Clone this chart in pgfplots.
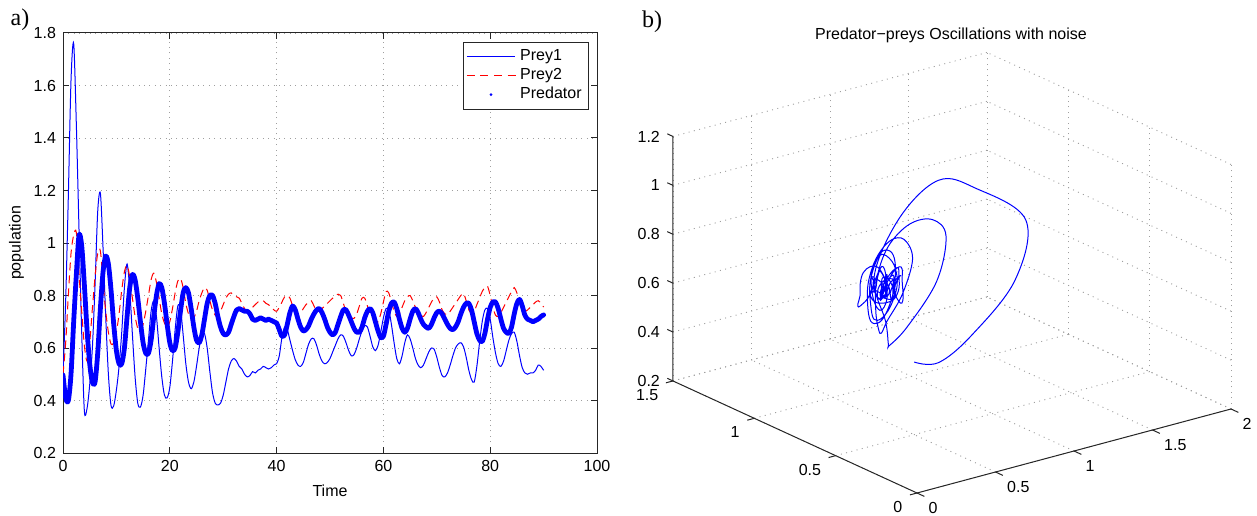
\documentclass[border=0pt]{standalone}
\usepackage{fontspec}
\setmainfont{Liberation Sans}
\newfontfamily\seriffont{Liberation Serif}
\usepackage{pgfplots}
\usepackage{pgfplotstable}
\pgfplotsset{compat=1.18}
\definecolor{mred}{RGB}{255,0,0}
\definecolor{mblue}{RGB}{0,0,255}

\pgfplotstableread{
t p1 p2 pd
0 0.50 0.50 0.497
0.5 0.78 0.62 0.41
1 1.18 0.80 0.40
1.5 1.62 0.96 0.50
2 1.76 1.03 0.70
2.5 1.45 1.04 0.88
3 1.05 0.88 1.03
3.5 0.66 0.74 0.99
4 0.36 0.61 0.84
4.5 0.37 0.55 0.67
5 0.46 0.62 0.54
5.5 0.60 0.75 0.47
6 0.84 0.87 0.47
6.5 1.12 0.96 0.58
7 1.19 0.97 0.75
7.5 0.98 0.85 0.89
8 0.72 0.74 0.95
8.5 0.50 0.66 0.92
9 0.38 0.615 0.82
9.5 0.38 0.62 0.69
10 0.44 0.66 0.59
10.5 0.53 0.73 0.54
11 0.66 0.82 0.54
11.5 0.83 0.89 0.60
12 0.92 0.915 0.72
12.5 0.82 0.87 0.83
13 0.65 0.79 0.88
13.5 0.49 0.72 0.86
14 0.39 0.675 0.79
14.5 0.375 0.665 0.70
15 0.42 0.69 0.62
15.5 0.52 0.74 0.58
16 0.63 0.80 0.58
16.5 0.74 0.86 0.63
17 0.78 0.885 0.72
17.5 0.72 0.85 0.80
18 0.60 0.79 0.845
18.5 0.49 0.73 0.83
19 0.42 0.695 0.77
19.5 0.41 0.68 0.69
20 0.45 0.70 0.62
20.5 0.55 0.75 0.59
21 0.67 0.81 0.60
21.5 0.76 0.855 0.66
22 0.75 0.865 0.74
22.5 0.65 0.83 0.81
23 0.54 0.77 0.83
23.5 0.47 0.73 0.81
24 0.445 0.71 0.75
24.5 0.47 0.715 0.68
25 0.53 0.74 0.63
25.5 0.60 0.78 0.62
26 0.65 0.81 0.65
26.5 0.655 0.83 0.71
27 0.60 0.82 0.77
27.5 0.51 0.78 0.80
28 0.43 0.745 0.80
28.5 0.39 0.725 0.77
29 0.383 0.72 0.72
29.5 0.39 0.74 0.68
30 0.42 0.765 0.655
30.5 0.47 0.79 0.65
31 0.52 0.805 0.66
31.5 0.55 0.81 0.69
32 0.56 0.80 0.72
32.5 0.55 0.795 0.745
33 0.53 0.79 0.75
33.5 0.52 0.77 0.745
34 0.50 0.75 0.74
34.5 0.49 0.74 0.74
35 0.495 0.745 0.73
35.5 0.51 0.755 0.71
36 0.505 0.765 0.705
36.5 0.515 0.775 0.71
37 0.52 0.78 0.715
37.5 0.53 0.78 0.71
38 0.525 0.77 0.705
38.5 0.52 0.765 0.71
39 0.525 0.755 0.705
39.5 0.535 0.745 0.70
40 0.54 0.74 0.695
40.5 0.57 0.755 0.67
41 0.64 0.775 0.645
41.5 0.68 0.795 0.65
42 0.67 0.80 0.69
42.5 0.63 0.79 0.735
43 0.59 0.76 0.76
43.5 0.555 0.735 0.745
44 0.535 0.73 0.71
44.5 0.53 0.735 0.68
45 0.545 0.75 0.665
45.5 0.58 0.765 0.67
46 0.615 0.775 0.685
46.5 0.635 0.78 0.71
47 0.635 0.76 0.73
47.5 0.61 0.74 0.745
48 0.575 0.74 0.75
48.5 0.55 0.75 0.735
49 0.54 0.76 0.71
49.5 0.545 0.77 0.68
50 0.56 0.78 0.66
50.5 0.585 0.79 0.65
51 0.61 0.80 0.66
51.5 0.635 0.805 0.69
52 0.65 0.80 0.72
52.5 0.645 0.77 0.745
53 0.62 0.74 0.745
53.5 0.59 0.72 0.725
54 0.57 0.715 0.70
54.5 0.575 0.713 0.675
55 0.60 0.73 0.66
55.5 0.635 0.76 0.66
56 0.665 0.79 0.68
56.5 0.685 0.79 0.715
57 0.68 0.76 0.74
57.5 0.645 0.73 0.75
58 0.605 0.715 0.735
58.5 0.59 0.705 0.70
59 0.61 0.70 0.665
59.5 0.66 0.73 0.64
60 0.715 0.775 0.645
60.5 0.75 0.815 0.69
61 0.745 0.81 0.74
61.5 0.69 0.775 0.77
62 0.62 0.74 0.775
62.5 0.56 0.72 0.75
63 0.54 0.73 0.71
63.5 0.57 0.755 0.675
64 0.62 0.78 0.66
64.5 0.65 0.795 0.675
65 0.635 0.80 0.71
65.5 0.60 0.78 0.74
66 0.56 0.755 0.75
66.5 0.535 0.735 0.735
67 0.525 0.725 0.71
67.5 0.535 0.72 0.69
68 0.56 0.735 0.68
68.5 0.585 0.755 0.675
69 0.60 0.775 0.69
69.5 0.595 0.79 0.715
70 0.565 0.795 0.735
70.5 0.525 0.775 0.74
71 0.495 0.745 0.73
71.5 0.49 0.73 0.71
72 0.505 0.727 0.69
72.5 0.535 0.74 0.675
73 0.57 0.755 0.67
73.5 0.60 0.77 0.68
74 0.615 0.785 0.70
74.5 0.62 0.80 0.73
75 0.605 0.808 0.755
75.5 0.565 0.78 0.77
76 0.515 0.745 0.77
76.5 0.48 0.732 0.745
77 0.47 0.74 0.70
77.5 0.53 0.765 0.655
78 0.62 0.79 0.63
78.5 0.70 0.815 0.625
79 0.745 0.83 0.655
79.5 0.75 0.835 0.71
80 0.71 0.80 0.755
80.5 0.64 0.755 0.775
81 0.58 0.725 0.775
81.5 0.54 0.72 0.75
82 0.53 0.735 0.71
82.5 0.55 0.755 0.675
83 0.59 0.775 0.66
83.5 0.63 0.795 0.656
84 0.655 0.815 0.68
84.5 0.66 0.83 0.73
85 0.625 0.81 0.77
85.5 0.57 0.775 0.785
86 0.525 0.75 0.76
86.5 0.505 0.74 0.725
87 0.50 0.745 0.71
87.5 0.505 0.755 0.705
88 0.505 0.765 0.70
88.5 0.515 0.775 0.705
89 0.535 0.78 0.71
89.5 0.53 0.77 0.72
90 0.515 0.756 0.726
}\data

\pgfplotsset{
  mygrid/.style={major grid style={gray!75, line width=0.45pt, dash pattern=on 0.5pt off 2.2pt}},
}

\begin{document}
\begin{tikzpicture}[font=\fontsize{8}{9.6}\selectfont]
\useasboundingbox (0,0) rectangle (628.5pt,257.5pt);
\node[font=\seriffont\fontsize{12}{14}\selectfont] at (10pt,247.5pt) {a)};
\node[font=\seriffont\fontsize{12}{14}\selectfont] at (326pt,246.5pt) {b)};

\begin{axis}[
  at={(31.5pt,31pt)}, anchor=south west,
  scale only axis, width=267pt, height=210pt,
  xmin=0, xmax=100, ymin=0.2, ymax=1.8,
  xtick={0,20,...,100}, ytick={0.2,0.4,...,1.8},
  grid=major, mygrid,
  axis line style={black!85, line width=0.5pt},
  tick style={black!85, line width=0.5pt}, major tick length=2.8pt,
  xlabel={Time}, ylabel={population},
  ylabel style={yshift=-2pt},
  /pgf/number format/assume math mode=true,
  tick label style={font=\fontsize{8}{9.6}\selectfont},
  label style={font=\fontsize{8}{9.6}\selectfont},
  legend style={at={(0.985,0.979)}, anchor=north east, draw=black!85,
    font=\fontsize{8}{9.6}\selectfont, inner sep=1.5pt,
    row sep=-1.5pt, cells={anchor=west}},
]
\addplot[mblue, line width=0.5pt, smooth, tension=0.5,
  legend image code/.code={\path[draw=mblue, line width=0.5pt] (0cm,0cm) -- (0.85cm,0cm);}]
  table[x=t,y=p1] {\data};
\addlegendentry{Prey1}
\addplot[mred, line width=0.5pt, dash pattern=on 4pt off 2.5pt, smooth, tension=0.5,
  legend image code/.code={%
    \pgfsetstrokecolor{mred}\pgfsetlinewidth{0.6pt}\pgfsetdash{{4pt}{2.8pt}}{0pt}%
    \pgfpathmoveto{\pgfpoint{0pt}{0pt}}\pgfpathlineto{\pgfpoint{24.4pt}{0pt}}%
    \pgfusepath{stroke}}]
  table[x=t,y=p2] {\data};
\addlegendentry{Prey2}
\addplot[mblue, line width=2.4pt, line join=round, line cap=round, smooth, tension=0.5,
  legend image code/.code={\path[fill=mblue, draw=none] (0.425cm,0cm) circle (0.75pt);}] table[x=t,y=pd] {\data};
\addlegendentry{Predator}
\end{axis}

\node at (475.5pt,240pt) {Predator−preys Oscillations with noise};

\begin{axis}[
  anchor=origin, at={(458.5pt,11pt)},
  x={(78.5pt,21pt)}, y={(-81.35pt,37.35pt)}, z={(0pt,122.25pt)},
  xmin=0, xmax=2, ymin=0, ymax=1.5, zmin=0.2, zmax=1.2,
  xtick={0,0.5,...,2}, ytick={0,0.5,...,1.5}, ztick={0.2,0.4,...,1.2},
  xticklabels={}, yticklabels={}, zticklabels={},
  major tick length=0pt,
  grid=major, mygrid,
  axis line style={draw=none},
  clip=false,
]
\addplot3[mblue, line width=0.5pt, no marks, smooth, tension=0.6] table[x=p1,y=p2,z=pd] {\data};
\draw[black!85, line width=0.5pt] (axis cs:0,1.5,1.2) -- (axis cs:0,1.5,0.2) -- (axis cs:0,0,0.2) -- (axis cs:2,0,0.2);
\pgfplotsinvokeforeach{0.2,0.4,0.6,0.8,1,1.2}{
  \draw[black!85, line width=0.5pt] (axis cs:0,1.5,#1) -- (axis cs:0,1.535,#1);
  \node[anchor=east, xshift=-3pt] at (axis cs:0,1.5,#1) {#1};
}
\pgfplotsinvokeforeach{0,0.5,1,1.5}{
  \draw[black!85, line width=0.5pt] (axis cs:0,#1,0.2) -- (axis cs:-0.045,#1,0.2);
  \node[anchor=east, xshift=-3.8pt, yshift=-7pt] at (axis cs:0,#1,0.2) {#1};
}
\pgfplotsinvokeforeach{0,0.5,1,1.5,2}{
  \draw[black!85, line width=0.5pt] (axis cs:#1,0,0.2) -- (axis cs:#1,-0.045,0.2);
  \node[anchor=west, xshift=2.3pt, yshift=-7.5pt] at (axis cs:#1,0,0.2) {#1};
}
\end{axis}
\end{tikzpicture}
\end{document}
